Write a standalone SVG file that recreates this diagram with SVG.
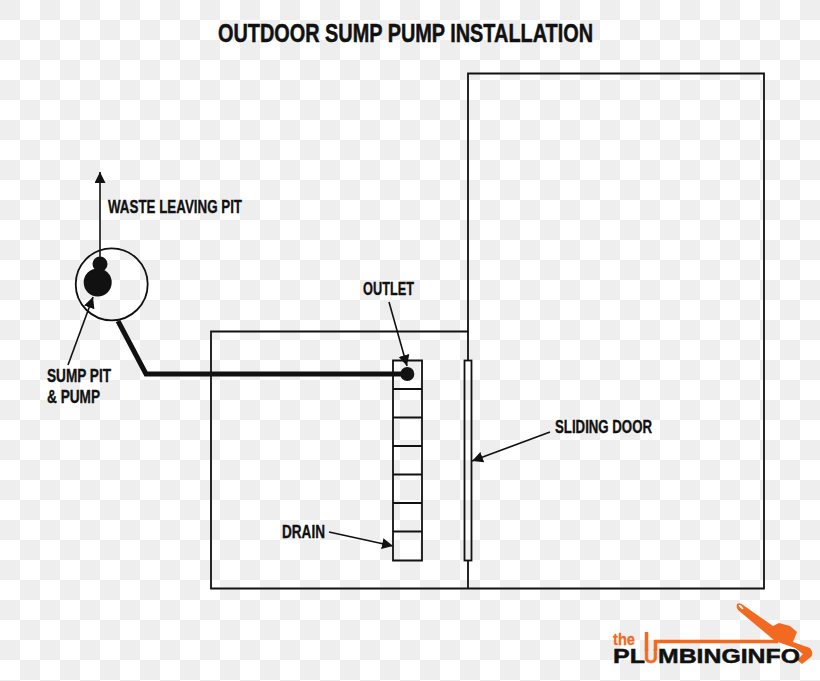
<svg xmlns="http://www.w3.org/2000/svg" width="820" height="681" viewBox="0 0 820 681">
<style>
text{font-family:"Liberation Sans",Arial,sans-serif;font-weight:700;fill:#111}
.t{font-size:18px;stroke:#111;stroke-width:.35px}
.l{fill:none;stroke:#111;stroke-width:1.800}
.a{fill:none;stroke:#111;stroke-width:1.600;marker-end:url(#ah)}
.o{fill:#f26a21}
</style>
<defs>
<pattern id="ck" width="40" height="40" patternUnits="userSpaceOnUse"><rect width="40" height="40" fill="#fff"/><rect width="20" height="20" fill="#eeeeee"/><rect x="20" y="20" width="20" height="20" fill="#eeeeee"/></pattern>
<marker id="ah" markerUnits="userSpaceOnUse" markerWidth="14" markerHeight="13" refX="11" refY="5.500" orient="auto"><path d="M0 0L11 5.500L0 11z" fill="#111"/></marker>
</defs>
<rect width="820" height="681" fill="url(#ck)"/>
<text id="title" x="218" y="42" font-size="26" textLength="375" lengthAdjust="spacingAndGlyphs" stroke="#111" stroke-width=".5">OUTDOOR SUMP PUMP INSTALLATION</text>
<g id="building"><path class="l" d="M468 360V73.500H764V588.500H211V331.500H468M468 560V588"/></g>
<g id="door"><rect class="l" x="464.500" y="360.500" width="7" height="200"/></g>
<g id="drain-grate"><path class="l" d="M393 360.500H422V560.500H393ZM393 389H422M393 417.500H422M393 446H422M393 474.500H422M393 503H422M393 531.500H422"/></g>
<g id="sump-pit"><circle class="l" cx="111.700" cy="284.300" r="36"/><circle cx="97.700" cy="282.500" r="14" fill="#111"/><circle cx="100" cy="264" r="7.500" fill="#111"/></g>
<g id="outlet"><circle cx="407.300" cy="374" r="7" fill="#111"/></g>
<g id="connectors">
<path d="M118 321L146 374H407" fill="none" stroke="#111" stroke-width="5"/>
<path class="a" d="M100 262V172"/>
<path class="a" d="M68 365L93 297"/>
<path class="a" d="M389 302L407 366"/>
<path class="a" d="M329 532L393 546"/>
<path class="a" d="M550 432L472 461"/>
</g>
<g id="labels">
<text class="t" x="108" y="213" textLength="134" lengthAdjust="spacingAndGlyphs">WASTE LEAVING PIT</text>
<text class="t" x="47" y="382" textLength="64" lengthAdjust="spacingAndGlyphs">SUMP PIT</text>
<text class="t" x="47" y="403" textLength="53" lengthAdjust="spacingAndGlyphs">&amp; PUMP</text>
<text class="t" x="363" y="295" textLength="51" lengthAdjust="spacingAndGlyphs">OUTLET</text>
<text class="t" x="282" y="538" textLength="43" lengthAdjust="spacingAndGlyphs">DRAIN</text>
<text class="t" x="555" y="433" textLength="97" lengthAdjust="spacingAndGlyphs">SLIDING DOOR</text>
</g>
<g id="logo">
<path class="o" d="M737 604Q740 602 743 605L773 626L779 623L790 626L797 632L793 642L810 648Q814 653 811 657L802 664L797 660L803 654L795 648L775 641L738 610Q736 607 737 604Z"/>
<ellipse cx="741" cy="607" rx="3" ry="1" fill="#fff" transform="rotate(40 741 607)"/>
<path d="M646.500 651V632M655.500 651V641.500H778" fill="none" stroke="#f26a21" stroke-width="3.500"/>
<text x="613" y="645" font-size="17" textLength="22" lengthAdjust="spacingAndGlyphs" stroke="#f26a21" stroke-width=".3" style="fill:#f26a21">the</text>
<text x="613" y="663" font-size="21" textLength="32" lengthAdjust="spacingAndGlyphs" stroke="#111" stroke-width=".5">PL</text>
<text x="644" y="663" font-size="21" textLength="14" lengthAdjust="spacingAndGlyphs" stroke="#f26a21" stroke-width=".3" style="fill:#f26a21">U</text>
<text x="658" y="663" font-size="21" textLength="142" lengthAdjust="spacingAndGlyphs" stroke="#111" stroke-width=".5">MBINGINFO</text>
</g>
</svg>
